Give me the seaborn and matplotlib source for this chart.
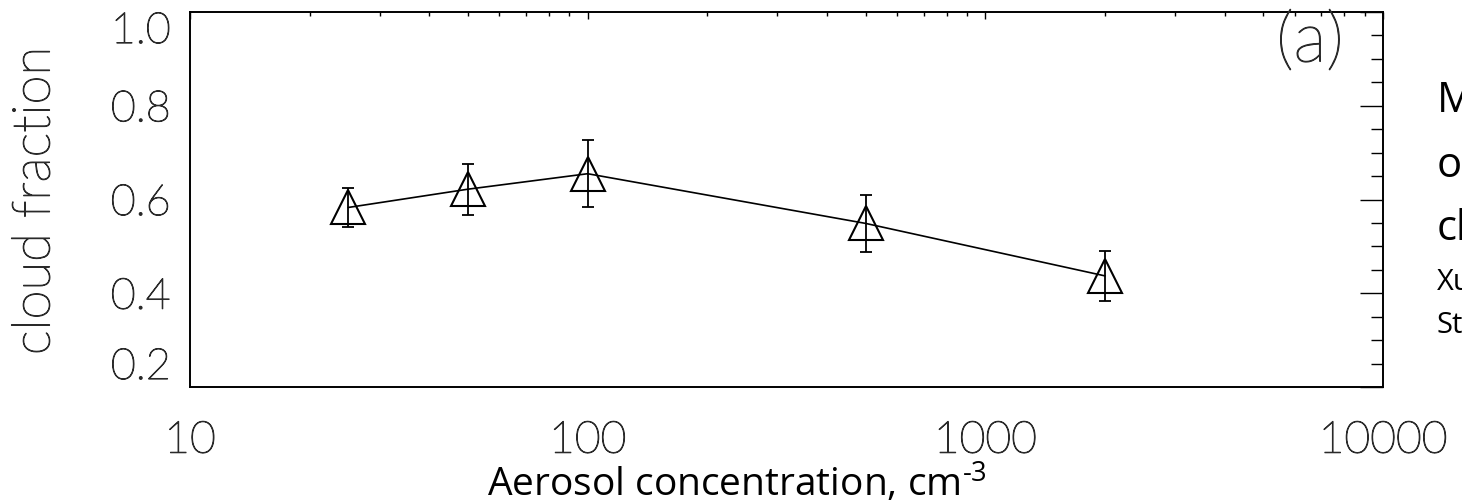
import matplotlib
matplotlib.use("Agg")
import matplotlib.pyplot as plt
import matplotlib.patheffects as pe
import pandas as pd
import seaborn as sns
from matplotlib.ticker import LogLocator, MultipleLocator, NullFormatter

# Cloud fraction vs. aerosol concentration (mean with error bars)
concentration = [25, 50, 100, 500, 2000]
cloud_fraction = [0.583, 0.622, 0.655, 0.549, 0.437]
fraction_err = [0.042, 0.054, 0.072, 0.060, 0.054]

x_ticks = [10, 100, 1000, 10000]
x_tick_labels = ["10", "100", "1000", "10000"]
y_ticks = [0.2, 0.4, 0.6, 0.8, 1.0]
y_tick_labels = ["0.2", "0.4", "0.6", "0.8", "1.0"]

side_big = ["M", "o", "cl"]
side_small = ["Xu", "St"]

sns.set_style("white")
plt.rcParams["font.family"] = ["Lato", "DejaVu Sans"]
plt.rcParams["mathtext.fontset"] = "custom"
plt.rcParams["mathtext.rm"] = "Open Sans"

W, H = 1462, 504
fig = plt.figure(figsize=(W / 100, H / 100), dpi=100)
ax = fig.add_axes([190 / W, 1 - 387 / H, (1383 - 190) / W, (387 - 12) / H])

df = pd.DataFrame({"conc": concentration, "cf": cloud_fraction, "err": fraction_err})
sns.lineplot(data=df, x="conc", y="cf", ax=ax, color="black", lw=1.2,
             marker="^", markersize=24, markerfacecolor="none",
             markeredgecolor="black", markeredgewidth=1.5, zorder=3)
ax.errorbar(df["conc"], df["cf"], yerr=df["err"], fmt="none", ecolor="black",
            elinewidth=1.3, capsize=4.5, capthick=1.3, zorder=4)

ax.set_xscale("log")
ax.set_xlim(10, 10000)
ax.set_ylim(0.2, 1.0)
ax.set_xticks(x_ticks, x_tick_labels)
ax.xaxis.set_minor_locator(LogLocator(base=10, subs=range(2, 10)))
ax.xaxis.set_minor_formatter(NullFormatter())
ax.set_yticks(y_ticks, y_tick_labels)
ax.yaxis.set_minor_locator(MultipleLocator(0.05))

for sp in ax.spines.values():
    sp.set_color("black")
    sp.set_linewidth(1.4)

# thin plotter-style lettering: a light face with a fine outline
label_color = "#2a2a2a"
thin = [pe.withStroke(linewidth=0.8, foreground=label_color)]

ax.tick_params(which="both", direction="in", top=True, right=True, color="black")
ax.tick_params(axis="y", which="major", length=16.5, width=1, labelsize=31, pad=14)
ax.tick_params(axis="y", which="minor", length=8.6, width=1)
ax.tick_params(axis="x", which="major", length=5, width=1, labelsize=32, pad=25)
ax.tick_params(axis="x", which="minor", length=3, width=1)
for lbl in ax.get_xticklabels() + ax.get_yticklabels():
    lbl.set_fontweight("light")
    lbl.set_color(label_color)
    lbl.set_path_effects(thin)

yt = ax.yaxis.get_major_ticks()
yt[0].label1.set_verticalalignment("bottom")
yt[-1].label1.set_verticalalignment("top")

ax.set_ylabel("cloud fraction", fontsize=38, fontweight="light", color=label_color,
              path_effects=thin)
ax.yaxis.label.set_verticalalignment("center")
ax.yaxis.set_label_coords((35 - 190) / 1193, (387 - 201) / 375)

ax.set_xlabel(r"Aerosol concentration, cm$^{\text{-3}}$", fontsize=28,
              fontfamily="Open Sans", color="black")
ax.xaxis.label.set_verticalalignment("baseline")
ax.xaxis.set_label_coords((737 - 190) / 1193, (387 - 497) / 375)

ax.text((1310 - 190) / 1193, (387 - 43) / 375, "(a)", transform=ax.transAxes,
        fontsize=50, fontweight="light", ha="center", va="center",
        color=label_color, path_effects=thin)

for txt, yb in zip(side_big, [112, 177, 240]):
    fig.text(1437 / W, 1 - yb / H, txt, fontsize=30, fontfamily="Open Sans",
             va="baseline", ha="left", color="black")
for txt, yb in zip(side_small, [290, 333]):
    fig.text(1437 / W, 1 - yb / H, txt, fontsize=21, fontfamily="Open Sans",
             va="baseline", ha="left", color="black")

fig.savefig("out.png", dpi=100)
